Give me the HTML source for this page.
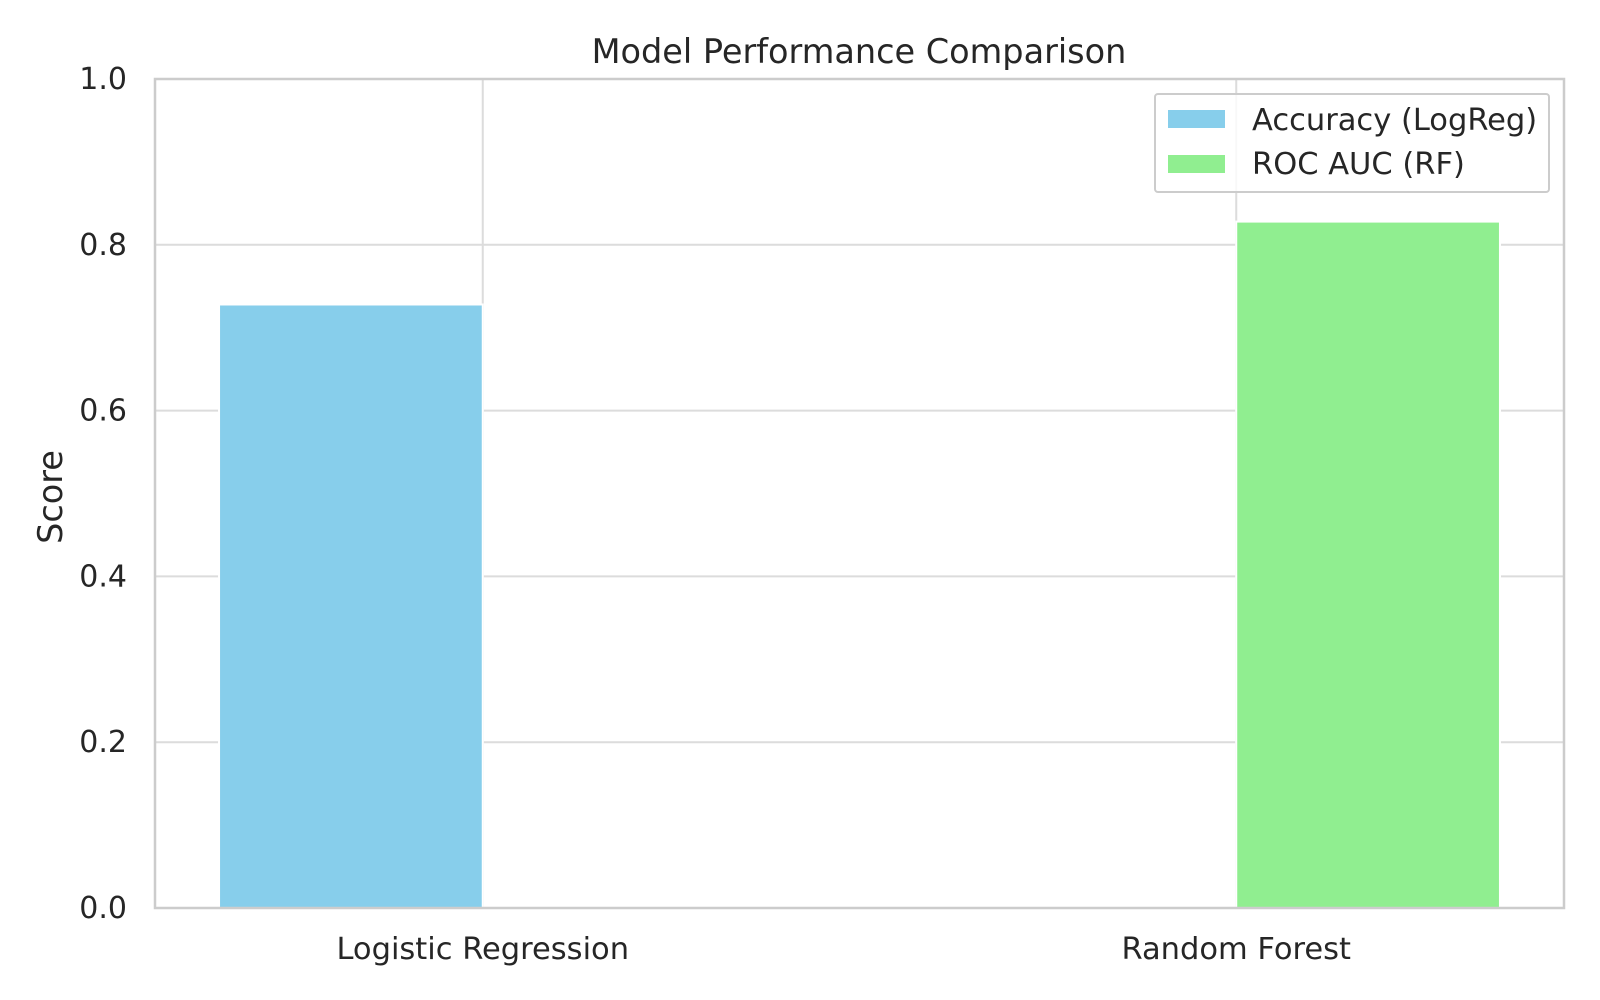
<!DOCTYPE html>
<html><head><meta charset="utf-8"><style>
html,body{margin:0;padding:0;background:#fff;}
svg{display:block;font-family:"DejaVu Sans","Liberation Sans",sans-serif;}
</style></head><body>
<svg id="chart" width="1600" height="1000" viewBox="0 0 1600 1000">
<rect width="1600" height="1000" fill="#fff"/>
<g id="grid"></g>
<g id="bars"></g>
<g id="axes"></g>
<text x="859" y="63" text-anchor="middle" font-size="33.5" fill="#262626">Model Performance Comparison</text>
<text transform="translate(62,497) rotate(-90)" text-anchor="middle" font-size="33.5" fill="#262626">Score</text>
<g>
<rect x="1155" y="94" width="394" height="98" rx="3" fill="#fff" fill-opacity="0.8" stroke="#ccc" stroke-width="2"/>
<rect x="1168" y="110" width="57" height="18" fill="#87ceeb"/>
<text x="1252" y="130" font-size="30.5" fill="#262626">Accuracy (LogReg)</text>
<rect x="1168" y="155" width="57" height="18" fill="#90ee90"/>
<text x="1252" y="174" font-size="30.5" fill="#262626">ROC AUC (RF)</text>
</g>
</svg>
<script>
const categories = ["Logistic Regression", "Random Forest"];
const seriesNames = ["Accuracy (LogReg)", "ROC AUC (RF)"];
const seriesValues = [0.728, 0.828];
const yTicks = [0.0, 0.2, 0.4, 0.6, 0.8, 1.0];
const yTickLabels = ["0.0", "0.2", "0.4", "0.6", "0.8", "1.0"];

const NS = "http://www.w3.org/2000/svg";
const L = 155, R = 1564, T = 79, B = 908;
const xMin = -0.435, xMax = 1.435;
const x = v => L + (v - xMin) / (xMax - xMin) * (R - L);
const y = v => B - v * (B - T);
function mk(tag, attrs, parent) {
  const e = document.createElementNS(NS, tag);
  for (const k in attrs) e.setAttribute(k, attrs[k]);
  parent.appendChild(e);
  return e;
}
const grid = document.getElementById("grid");
const bars = document.getElementById("bars");
const axes = document.getElementById("axes");
yTicks.forEach((t, i) => {
  const ln = mk("line", {x1: L, x2: R, y1: y(t), y2: y(t), stroke: "#dcdcdc", "stroke-width": 2}, grid);
  
  
  const tx = mk("text", {x: L - 28, y: y(t) + 10, "text-anchor": "end", "font-size": 30, fill: "#262626"}, axes);
  tx.textContent = yTickLabels[i];
  
  
});
categories.forEach((c, i) => {
  const ln = mk("line", {x1: x(i), x2: x(i), y1: T, y2: B, stroke: "#dcdcdc", "stroke-width": 2}, grid);
  
  
  const tx = mk("text", {x: x(i), y: y(0) + 51, "text-anchor": "middle", "font-size": 30.5, fill: "#262626"}, axes);
  tx.textContent = c;
  
  
});
const w = 0.35;
const colors = ["#87ceeb", "#90ee90"];
seriesValues.forEach((v, i) => {
  const x0 = i === 0 ? i - w : i;
  const b = mk("rect", {x: x(x0), y: y(v), width: x(x0 + w) - x(x0), height: y(0) - y(v), fill: colors[i], stroke: "#fff", "stroke-width": 2}, bars);
  
  
});
const sp = mk("rect", {x: L, y: T, width: R - L, height: B - T, fill: "none", stroke: "#cccccc", "stroke-width": 2.5}, axes);


</script>
</body></html>
